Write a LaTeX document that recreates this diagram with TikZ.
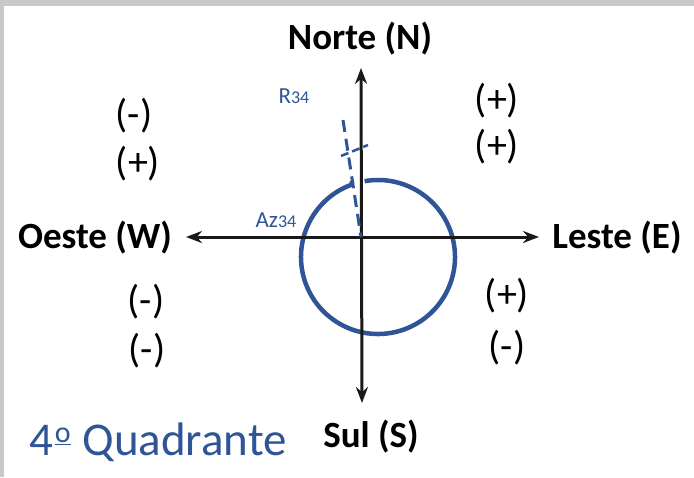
\documentclass[tikz,border=0pt]{standalone}
\usepackage{fontspec}
\setmainfont{Carlito}
\usetikzlibrary{arrows.meta}
\definecolor{ablue}{RGB}{47,85,151}
\definecolor{axisgray}{RGB}{25,25,25}
\definecolor{framegray}{RGB}{200,200,200}
\newcommand{\ordo}{\hspace{0.04em}\raisebox{0.27em}{\fontsize{30}{32}\selectfont\underline{o}}}
\begin{document}
\begin{tikzpicture}[x=1pt,y=-1pt,
  dirlabel/.style={font=\fontsize{37}{40}\selectfont\bfseries, text=black, inner sep=0pt},
  signlabel/.style={font=\fontsize{40}{44}\selectfont, text=black, inner sep=0pt},
  bluelabel/.style={font=\fontsize{23}{26}\selectfont, text=ablue, inner sep=0pt},
  axisline/.style={line width=3pt, draw=axisgray, {Stealth[length=16pt,width=12pt]}-{Stealth[length=16pt,width=12pt]}},
  circline/.style={line width=4.5pt, draw=ablue},
  dashline/.style={line width=3pt, draw=ablue, dash pattern=on 12pt off 7pt}
]
\fill[framegray] (0,0) rectangle (694,477);
\fill[white] (4,6) rectangle (694,477);
\useasboundingbox (0,0) rectangle (694,477);

% axis end points
\coordinate (o) at (361,237);
\coordinate (ntip) at (361,68);
\coordinate (stip) at (362,403);
\coordinate (wtip) at (186,237);
\coordinate (etip) at (539,237);
\coordinate (cc) at (378,257);
\coordinate (rtip) at (343,120);
\coordinate (ta) at (341,156);
\coordinate (tb) at (368,145);

% circle with gap at the north axis
\draw[circline] (352,181) -- ([shift={(-110:77)}]cc) arc[start angle=-110, end angle=-460, radius=77];

% axes
\draw[axisline] (stip) -- (ntip);
\draw[axisline] (wtip) -- (etip);

% azimuth / bearing line
\draw[dashline] (rtip) -- (o);
\draw[line width=2.5pt, draw=ablue, dash pattern=on 8pt off 4pt] (ta) -- (tb);

% direction labels
\node[dirlabel] (norte) at (360,39) {Norte (N)};
\node[dirlabel] (oeste) at (95,238) {Oeste (W)};
\node[dirlabel] (leste) at (617,238) {Leste (E)};
\node[dirlabel] (sul) at (371,437) {Sul (S)};

% signs
\node[signlabel] (s1) at (134,116) {(-)};
\node[signlabel] (s2) at (138,164) {(+)};
\node[signlabel] (s3) at (497,101) {(+)};
\node[signlabel] (s4) at (497,147) {(+)};
\node[signlabel] (s5) at (146,302) {(-)};
\node[signlabel] (s6) at (147,351) {(-)};
\node[signlabel] (s7) at (507,296) {(+)};
\node[signlabel] (s8) at (507,348) {(-)};

% blue labels
\node[bluelabel, anchor=base] (r34) at (294,103) {R{\fontsize{18}{20}\selectfont 34}};
\node[bluelabel, anchor=base] (az34) at (276,227) {Az{\fontsize{18}{20}\selectfont 34}};
\node[font=\fontsize{47}{50}\selectfont, text=ablue, inner sep=0pt, anchor=base] (quad) at (158,455) {4\ordo\hspace{0.25em}Quadrante};
\end{tikzpicture}
\end{document}
